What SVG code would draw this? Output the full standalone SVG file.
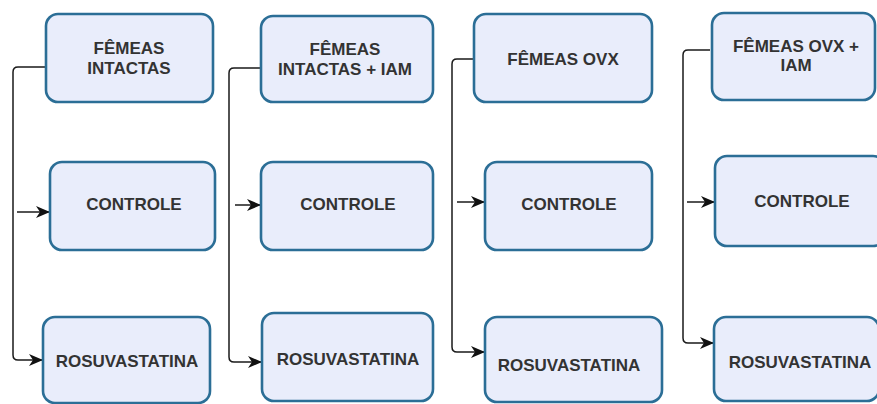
<svg xmlns="http://www.w3.org/2000/svg" width="877" height="404" viewBox="0 0 877 404">
<defs>
<style>
.box{fill:#e9edfb;stroke:#2b6e96;stroke-width:2.6}
.lbl{font-family:"Liberation Sans",Arial,sans-serif;font-weight:bold;font-size:17px;fill:#333;text-anchor:middle}
.con{fill:none;stroke:#1a1a1a;stroke-width:1.5}
</style>
<marker id="arr" viewBox="0 0 14 12" refX="13" refY="6" markerWidth="14" markerHeight="12" markerUnits="userSpaceOnUse" orient="auto">
<path d="M0,0 L14,6 L0,12 L4,6 Z" fill="#111"/>
</marker>
</defs>
<rect width="877" height="404" fill="#ffffff"/>
<g id="connectors">
<path class="con" d="M46,67 H18 Q13,67 13,72 V355 Q13,360 18,360 H42" marker-end="url(#arr)"/>
<path class="con" d="M17,212 H49" marker-end="url(#arr)"/>
<path class="con" d="M261,68 H234 Q229,68 229,73 V357 Q229,362 234,362 H261" marker-end="url(#arr)"/>
<path class="con" d="M235,205 H260" marker-end="url(#arr)"/>
<path class="con" d="M474,59 H457 Q452,59 452,64 V347 Q452,352 457,352 H484" marker-end="url(#arr)"/>
<path class="con" d="M457,202 H484" marker-end="url(#arr)"/>
<path class="con" d="M710,50 H688 Q683,50 683,55 V338 Q683,343 688,343 H713" marker-end="url(#arr)"/>
<path class="con" d="M687,202 H714" marker-end="url(#arr)"/>
</g>
<g id="n1">
<rect class="box" x="46" y="14" width="167" height="88" rx="12"/>
<text class="lbl" x="129" y="54">FÊMEAS</text>
<text class="lbl" x="129" y="74">INTACTAS</text>
</g>
<g id="n2">
<rect class="box" x="50" y="162" width="165" height="88" rx="12"/>
<text class="lbl" x="134" y="210">CONTROLE</text>
</g>
<g id="n3">
<rect class="box" x="43" y="317" width="167" height="86" rx="12"/>
<text class="lbl" x="127" y="367">ROSUVASTATINA</text>
</g>
<g id="n4">
<rect class="box" x="261" y="16" width="172" height="86" rx="12"/>
<text class="lbl" x="345" y="55">FÊMEAS</text>
<text class="lbl" x="345" y="75">INTACTAS + IAM</text>
</g>
<g id="n5">
<rect class="box" x="261" y="162" width="172" height="88" rx="12"/>
<text class="lbl" x="348" y="210">CONTROLE</text>
</g>
<g id="n6">
<rect class="box" x="262" y="313" width="171" height="88" rx="12"/>
<text class="lbl" x="348" y="365">ROSUVASTATINA</text>
</g>
<g id="n7">
<rect class="box" x="474" y="14" width="178" height="88" rx="12"/>
<text class="lbl" x="563" y="65">FÊMEAS OVX</text>
</g>
<g id="n8">
<rect class="box" x="485" y="162" width="167" height="88" rx="12"/>
<text class="lbl" x="569" y="210">CONTROLE</text>
</g>
<g id="n9">
<rect class="box" x="485" y="317" width="177" height="85" rx="12"/>
<text class="lbl" x="569" y="371">ROSUVASTATINA</text>
</g>
<g id="n10">
<rect class="box" x="712" y="13" width="163" height="87" rx="12"/>
<text class="lbl" x="796" y="52">FÊMEAS OVX +</text>
<text class="lbl" x="796" y="71">IAM</text>
</g>
<g id="n11">
<rect class="box" x="715" y="156" width="170" height="90" rx="12"/>
<text class="lbl" x="802" y="207">CONTROLE</text>
</g>
<g id="n12">
<rect class="box" x="714" y="317" width="165" height="84" rx="12"/>
<text class="lbl" x="800" y="368">ROSUVASTATINA</text>
</g>
</svg>
